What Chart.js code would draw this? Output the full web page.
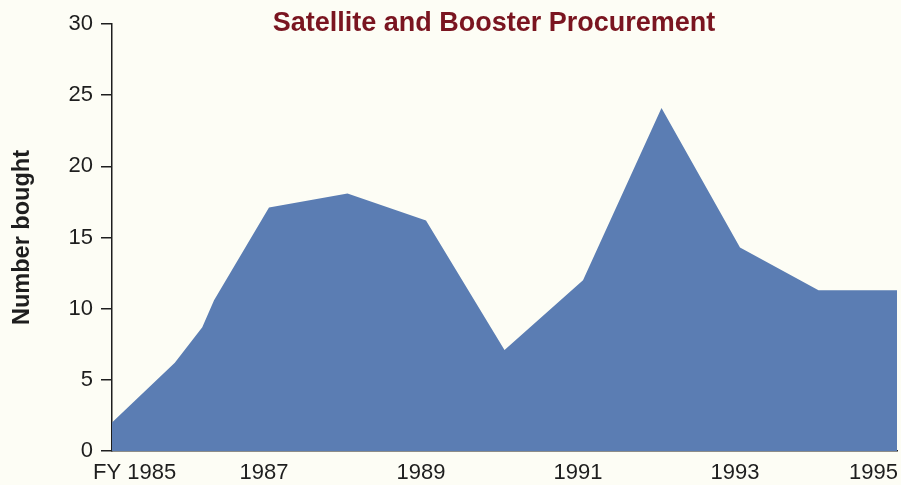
<!DOCTYPE html>
<html>
<head>
<meta charset="utf-8">
<script src="https://cdn.jsdelivr.net/npm/chart.js@4/dist/chart.umd.min.js"></script>
<style>
  html, body { margin: 0; padding: 0; background: #fdfdf5; }
  #wrap { position: relative; width: 901px; height: 485px; }
  #title {
    position: absolute; top: 7px; left: 494px; transform: translateX(-50%);
    font: bold 27px "Liberation Sans", Arial, sans-serif; line-height: 30px;
    color: #7a1520; white-space: nowrap;
  }
</style>
</head>
<body>
<div id="wrap">
  <canvas id="c"></canvas>
  <div id="title">Satellite and Booster Procurement</div>
</div>
<script>
// Data
const years = [1985, 1985.8, 1986.15, 1986.3, 1987, 1988, 1989, 1990, 1991, 1992, 1993, 1994, 1995];
const bought = [2, 6.2, 8.7, 10.6, 17.1, 18.1, 16.2, 7.1, 12, 24.1, 14.3, 11.3, 11.3];
const xTickYears = [1985, 1987, 1989, 1991, 1993, 1995];
const xTickLabels = ['FY 1985', '1987', '1989', '1991', '1993', '1995'];
const yTicks = [0, 5, 10, 15, 20, 25, 30];

const points = years.map((y, i) => ({ x: y, y: bought[i] }));
const ink = '#1e1e1e';
const font = '"Liberation Sans", Arial, sans-serif';

const labelFix = {
  id: 'labelFix',
  beforeDraw(chart) {
    const s = chart.scales.x;
    const items = s.getLabelItems(chart.chartArea);
    if (!items.length) return;
    const first = items[0].options, last = items[items.length - 1].options;
    first.textAlign = 'left';
    first.translation[0] = s.getPixelForValue(xTickYears[0]) - 19;
    last.textAlign = 'right';
    last.translation[0] = s.getPixelForValue(xTickYears[xTickYears.length - 1]) + 1;
  }
};

new Chart(document.getElementById('c'), {
  type: 'line',
  data: {
    datasets: [{
      data: points,
      fill: 'origin',
      backgroundColor: '#5b7db3',
      borderColor: '#5b7db3',
      borderWidth: 0,
      pointRadius: 0,
      tension: 0
    }]
  },
  options: {
    responsive: true,
    maintainAspectRatio: false,
    animation: false,
    events: [],
    layout: { padding: { top: 24, right: 4, left: 0, bottom: 0 } },
    plugins: { legend: { display: false }, tooltip: { enabled: false }, title: { display: false } },
    scales: {
      x: {
        type: 'linear',
        min: 1985, max: 1995,
        afterBuildTicks: s => { s.ticks = xTickYears.map(v => ({ value: v })); },
        afterFit: s => { s.height = 34; s.paddingLeft = 0; s.paddingRight = 0; },
        ticks: {
          callback: (v) => xTickLabels[xTickYears.indexOf(v)],
          font: { family: font, size: 22 },
          color: ink,
          padding: 9,
          labelOffset: -5,
          maxRotation: 0,
          autoSkip: false
        },
        grid: { display: false, drawTicks: false },
        border: { display: true, color: ink, width: 1.5 }
      },
      y: {
        min: 0, max: 30,
        afterBuildTicks: s => { s.ticks = yTicks.map(v => ({ value: v })); },
        afterFit: s => { s.width = 112; s.paddingTop = 0; s.paddingBottom = 0; },
        ticks: {
          font: { family: font, size: 22 },
          color: ink,
          padding: 8
        },
        grid: { display: true, drawOnChartArea: false, drawTicks: true, tickLength: 11, color: ink, lineWidth: 1.5 },
        border: { display: true, color: ink, width: 1.5 },
        title: {
          display: true,
          text: 'Number bought',
          font: { family: font, size: 23.5, weight: 'bold' },
          color: ink,
          padding: { top: 8, bottom: 0 }
        }
      }
    }
  },
  plugins: [labelFix]
});
</script>
</body>
</html>
